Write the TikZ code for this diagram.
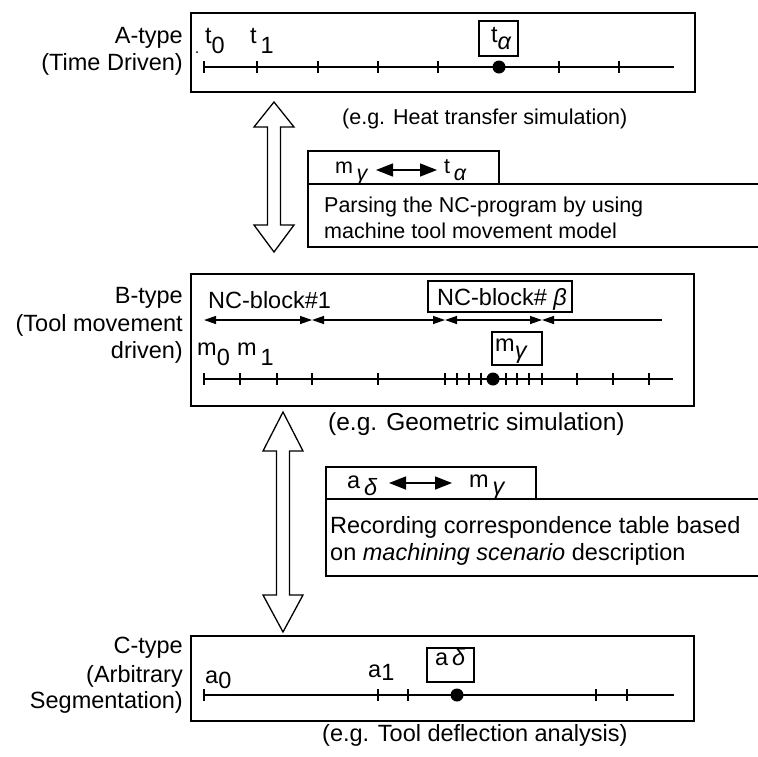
\documentclass[tikz,border=0pt]{standalone}
\usepackage{fontspec}
\setmainfont{Liberation Sans}
\usetikzlibrary{arrows.meta}

\tikzset{
  frame/.style={line width=1.6pt},
  axis/.style={line width=1.4pt},
  markframe/.style={line width=1.3pt},
  lbl/.style={anchor=base east, inner sep=0pt, font=\fontsize{23.5}{28}\selectfont},
  txt/.style={anchor=base west, inner sep=0pt, font=\fontsize{23.5}{28}\selectfont},
  smalltxt/.style={anchor=base west, inner sep=0pt, font=\fontsize{21.5}{26}\selectfont},
  hollowarrow/.style={draw, line width=1.3pt, fill=white},
  bigtips/.style={{Triangle[length=17pt,width=13pt]}-{Triangle[length=17pt,width=13pt]}, line width=1.4pt},
  blocktips/.style={line width=1.3pt},
}
\newcommand{\lowsub}[1]{\raisebox{-10pt}{#1}}
\newcommand{\grk}[1]{\raisebox{-7pt}{\itshape #1}}

\begin{document}
\begin{tikzpicture}[x=1pt,y=-1pt]
\useasboundingbox (0,0) rectangle (758,756);

% A-type
\node[lbl] (atype) at (183,43) {A-type};
\node[lbl] (adrive) at (183,70) {(Time Driven)};
\draw[frame] (191,13) rectangle (695,92);
\draw[axis] (204,67) -- (674,67);
\foreach \x in {204,257,318,378,438,559,619} \draw[axis] (\x,61) -- (\x,73);
\fill (499,67) circle (6.5);
\fill (197,52) circle (1);
\node[txt] (t0) at (205,43) {t\lowsub{0}};
\node[txt] (t1) at (250,43) {t\,\lowsub{1}};
\draw[markframe] (479,21) rectangle (518,56);
\node[txt] (talpha) at (491,42) {t\grk{α}};
\node[smalltxt] (acap) at (342,124) {(e.g. Heat transfer simulation)};

% A <-> B
\draw[hollowarrow] (274,102) -- (294,127) -- (280.5,127) -- (280.5,225) -- (294,225)
  -- (274,252) -- (254,225) -- (267.5,225) -- (267.5,127) -- (254,127) -- cycle;
\draw[frame] (308,184) -- (308,151) -- (499,151) -- (499,184);
\draw[frame] (758,184) -- (308,184) -- (308,247) -- (758,247);
\node[smalltxt] (mgam1) at (335,173) {m\,\grk{γ}};
\node[smalltxt] (talpha1) at (444,173) {t\,\grk{α}};
\coordinate (ab1) at (376,170);
\coordinate (ab2) at (437,170);
\draw[bigtips] (ab1) -- (ab2);
\node[smalltxt] (parse1) at (324,212) {Parsing the NC-program by using};
\node[smalltxt] (parse2) at (324,238) {machine tool movement model};

% B-type
\node[lbl] (btype) at (183,303) {B-type};
\node[lbl] (bdrive1) at (183,331) {(Tool movement};
\node[lbl] (bdrive2) at (183,358) {driven)};
\draw[frame] (191,274) rectangle (694,406);
\coordinate (nc0) at (204,320);
\coordinate (nc1) at (312,320);
\coordinate (nc2) at (445,320);
\coordinate (nc3) at (542,320);
\coordinate (nc4) at (662,320);
\draw[blocktips, {Triangle[length=12pt,width=8pt]}-{Triangle[length=12pt,width=8pt]}] (nc0) -- (nc1);
\draw[blocktips, {Triangle[length=12pt,width=8pt]}-{Triangle[length=12pt,width=8pt]}] (nc1) -- (nc2);
\draw[blocktips, {Triangle[length=12pt,width=8pt]}-{Triangle[length=12pt,width=8pt]}] (nc2) -- (nc3);
\draw[blocktips, {Triangle[length=12pt,width=8pt]}-] (nc3) -- (nc4);
\node[txt] (blk1) at (208,308) {NC-block\#1};
\draw[markframe] (428,281) rectangle (572,312);
\node[txt] (blkb) at (437,305) {NC-block\# {\itshape β}};
\node[txt] (m0) at (197,355) {m\lowsub{0}};
\node[txt] (m1) at (237,355) {m\,\lowsub{1}};
\draw[markframe] (492,332) rectangle (542,365);
\node[txt] (mgam) at (495,351) {m\grk{γ}};
\draw[axis] (204,379) -- (673,379);
\foreach \x in {204,240,277,312,378,445,457,469,481,506,517,529,542,577,613,649}
  \draw[axis] (\x,373) -- (\x,385);
\fill (493,379) circle (6.5);
\node[txt, font=\fontsize{24.5}{29}\selectfont] (bcap) at (328,430) {(e.g. Geometric simulation)};

% B <-> C
\draw[hollowarrow] (283,412) -- (303,451) -- (289.5,451) -- (289.5,595) -- (303,595)
  -- (283,632) -- (263,595) -- (276.5,595) -- (276.5,451) -- (263,451) -- cycle;
\draw[frame] (326,499) -- (326,467) -- (536,467) -- (536,499);
\draw[frame] (758,499) -- (326,499) -- (326,576) -- (758,576);
\node[txt] (adel1) at (347,488) {a\,\grk{δ}};
\node[txt] (mgam2) at (469,487) {m\,\grk{γ}};
\coordinate (bc1) at (389,483);
\coordinate (bc2) at (452,483);
\draw[bigtips] (bc1) -- (bc2);
\node[txt] (rec1) at (330,533) {Recording correspondence table based};
\node[txt] (rec2) at (330,560) {on \textit{machining scenario} description};

% C-type
\node[lbl] (ctype) at (183,653) {C-type};
\node[lbl] (cseg1) at (183,682) {(Arbitrary};
\node[lbl] (cseg2) at (183,708) {Segmentation)};
\draw[frame] (191,636) rectangle (694,721);
\draw[axis] (204,695) -- (674,695);
\foreach \x in {204,378,408,596,627} \draw[axis] (\x,689) -- (\x,701);
\fill (457,695) circle (6.5);
\node[txt] (a0) at (205,683) {a\raisebox{-5pt}{0}};
\node[txt] (a1) at (368,677) {a\raisebox{-3pt}{1}};
\draw[markframe] (427,648) rectangle (474,682);
\node[txt] (adel) at (435,665) {a\,{\itshape δ}};
\node[txt] (ccap) at (322,741) {(e.g. Tool deflection analysis)};
\end{tikzpicture}
\end{document}
